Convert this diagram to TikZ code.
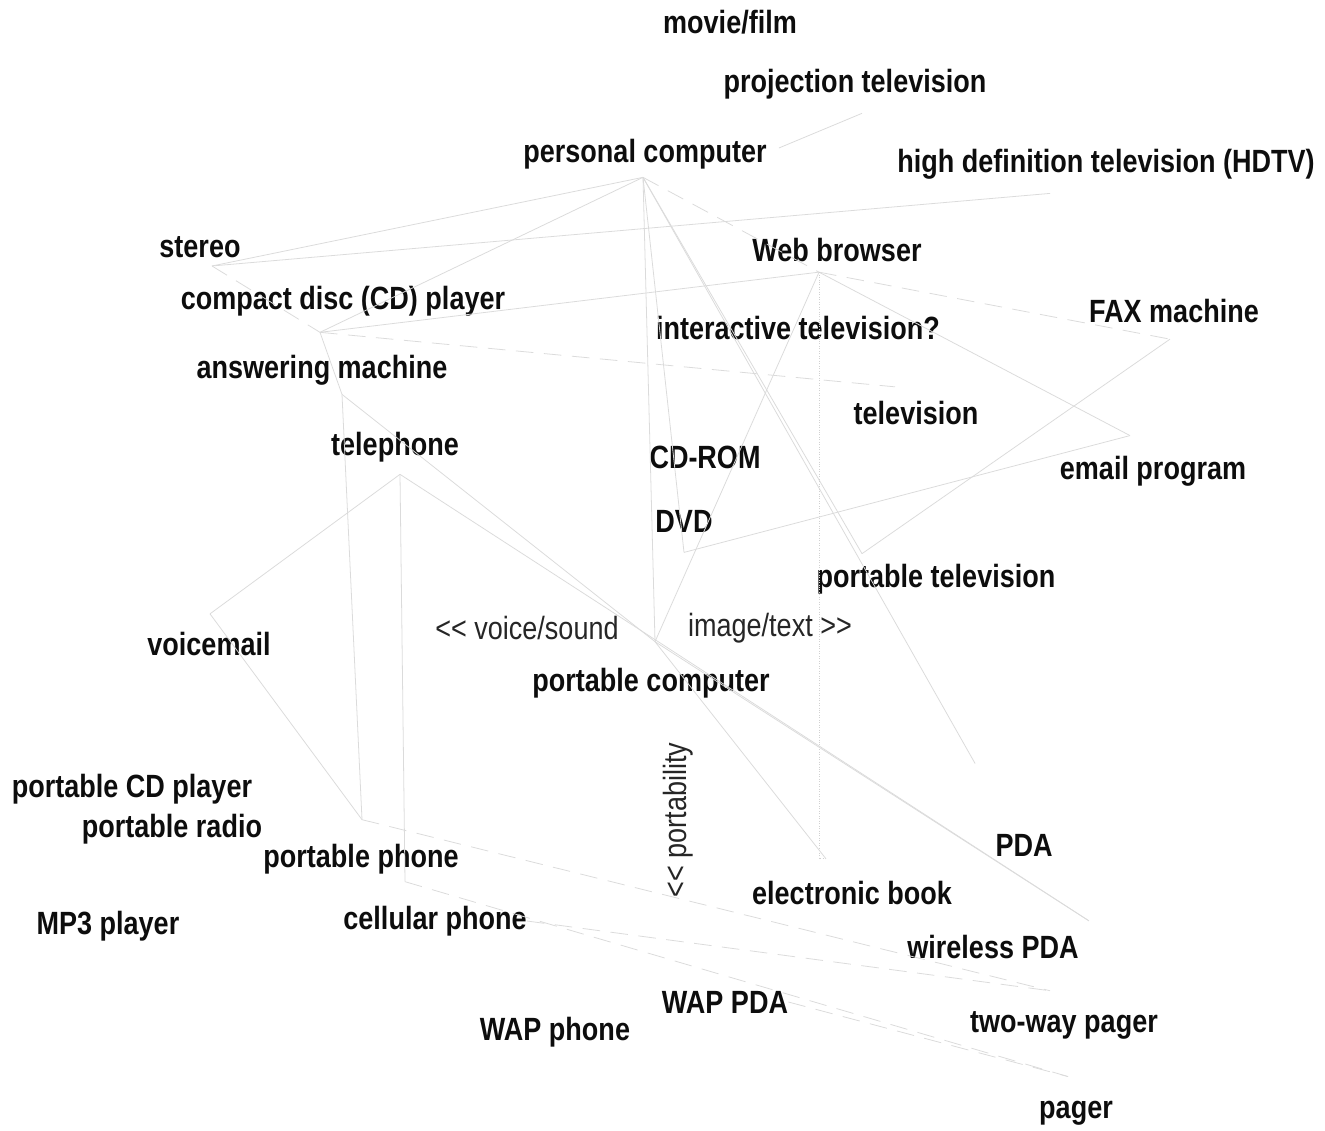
\documentclass[tikz,border=0pt]{standalone}
\usepackage{fontspec}
\setmainfont{Liberation Sans}[FakeStretch=0.84]

\begin{document}
\begin{tikzpicture}[x=0.02cm, y=-0.02cm,
		lbl/.style={font=\fontsize{18.3}{20}\selectfont\bfseries, text=black!95, inner sep=0pt},
		axl/.style={font=\fontsize{18.3}{20}\selectfont, text=black!85, inner sep=0pt},
		link/.style={draw=black!14, line width=0.45pt},
		dlink/.style={link, dash pattern=on 10pt off 6pt}]
		\useasboundingbox (0,0) rectangle (1325,1131);

		% devices, placed by hand
		\node [lbl] (mov) at (730, 22) {movie/film};
		\node [lbl] (proj) at (855, 84) {projection television};
		\node [lbl] (pc) at (645, 154) {personal computer};
		\node [lbl] (hdtv) at (1106, 164) {high definition television (HDTV)};
		\node [lbl] (stereo) at (200, 247) {stereo};
		\node [lbl] (web) at (837, 250) {Web browser};
		\node [lbl] (cdp) at (343, 301) {compact disc (CD) player};
		\node [lbl] (fax) at (1174, 311) {FAX machine};
		\node [lbl] (itv) at (798, 328) {interactive television?};
		\node [lbl] (ans) at (322, 370) {answering machine};
		\node [lbl] (tv) at (916, 413) {television};
		\node [lbl] (tel) at (395, 447) {telephone};
		\node [lbl] (cdrom) at (705, 457) {CD-ROM};
		\node [lbl] (email) at (1153, 471) {email program};
		\node [lbl] (dvd) at (684, 521) {DVD};
		\node [lbl] (ptv) at (936, 579) {portable television};
		\node [lbl] (vmail) at (209, 644) {voicemail};
		\node [lbl] (pcomp) at (651, 683) {portable computer};
		\node [lbl] (pcd) at (132, 789) {portable CD player};
		\node [lbl] (pradio) at (172, 829) {portable radio};
		\node [lbl] (pphone) at (361, 859) {portable phone};
		\node [lbl] (pda) at (1024, 845) {PDA};
		\node [lbl] (ebook) at (852, 893) {electronic book};
		\node [lbl] (mp3) at (108, 926) {MP3 player};
		\node [lbl] (cell) at (435, 921) {cellular phone};
		\node [lbl] (wpda) at (993, 947) {wireless PDA};
		\node [lbl] (wappda) at (725, 1002) {WAP PDA};
		\node [lbl] (wapph) at (555, 1032) {WAP phone};
		\node [lbl] (twoway) at (1064, 1025) {two-way pager};
		\node [lbl] (pager) at (1076, 1113) {pager};

		% axis labels
		\node [axl] (voice) at (527, 628) {<{}< voice/sound};
		\node [axl] (image) at (770, 628) {image/text >{}>};
		\node [axl, rotate=90] (port) at (678, 820) {<{}< portability};

		% where the links meet each label
		\coordinate (pcH) at ([shift={(-2,8)}]pc.south);
		\coordinate (projH) at ([shift={(7,14)}]proj.south);
		\coordinate (hdtvH) at ([shift={(-56,14)}]hdtv.south);
		\coordinate (stereoH) at ([shift={(12,8)}]stereo.south);
		\coordinate (webH) at ([shift={(-18,10)}]web.south);
		\coordinate (cdpH) at ([shift={(-23,16)}]cdp.south);
		\coordinate (faxH) at ([shift={(-4,16)}]fax.south);
		\coordinate (ansH) at ([shift={(20,9)}]ans.south);
		\coordinate (tvH) at ([shift={(-21,-14)}]tv.north);
		\coordinate (telH) at ([shift={(5,12)}]tel.south);
		\coordinate (emailH) at ([shift={(-23,-20)}]email.north);
		\coordinate (dvdH) at ([shift={(0,20)}]dvd.south);
		\coordinate (ptvH) at ([shift={(-74,-10)}]ptv.north);
		\coordinate (vmailH) at ([shift={(1,-18)}]vmail.north);
		\coordinate (pcompH) at ([shift={(4,-26)}]pcomp.north);
		\coordinate (pphoneH) at ([shift={(1,-24)}]pphone.north);
		\coordinate (cellH) at ([shift={(-30,-24)}]cell.north);
		\coordinate (ebookH) at ([shift={(-26,-22)}]ebook.north);
		\coordinate (pdaH) at ([shift={(-20,-70)}]pda.north west);
		\coordinate (wpdaH) at ([shift={(10,-14)}]wpda.north east);
		\coordinate (twowayH) at ([shift={(-14,-20)}]twoway.north);
		\coordinate (pagerH) at ([shift={(-8,-24)}]pager.north);

		% links
		\draw [link] (pcH) -- (stereoH);
		\draw [link] (pcH) -- (cdpH);
		\draw [link] ([shift={(12,-6)}]pc.east) -- (projH);
		\draw [dlink] (pcH) -- (webH);
		\draw [link] (pcH) -- (pcompH);
		\draw [link] (pcH) -- (dvdH);
		\draw [link] (pcH) -- (ptvH);
		\draw [link] (pcH) -- (pdaH);
		\draw [link] (stereoH) -- (hdtvH);
		\draw [dlink] (stereoH) -- (cdpH);
		\draw [link] (cdpH) -- (webH);
		\draw [dlink] (cdpH) -- (tvH);
		\draw [link] (cdpH) -- (ansH);
		\draw [dlink] (webH) -- (faxH);
		\draw [link] (webH) -- (emailH);
		\draw [link] (webH) -- (pcompH);
		\draw [densely dotted, draw=black!18] (webH) -- (webH |- ebookH) -- (ebookH);
		\draw [link] (faxH) -- (ptvH);
		\draw [link] (emailH) -- (dvdH);
		\draw [link] (ansH) -- (pphoneH);
		\draw [link] (ansH) -- (pcompH);
		\draw [link] (telH) -- (cellH);
		\draw [link] (telH) -- (vmailH);
		\draw [link] (telH) -- (wpdaH);
		\draw [link] (vmailH) -- (pphoneH);
		\draw [link] (pcompH) -- (ebookH);
		\draw [link] (pcompH) -- (wpdaH);
		\draw [dlink] (pphoneH) -- (twowayH);
		\draw [dlink] (cellH) -- (pagerH);
		\draw [dlink] (wappda.east) -- (pagerH);
		\draw [dlink] (cell.east) -- (twowayH);
	\end{tikzpicture}
\end{document}
